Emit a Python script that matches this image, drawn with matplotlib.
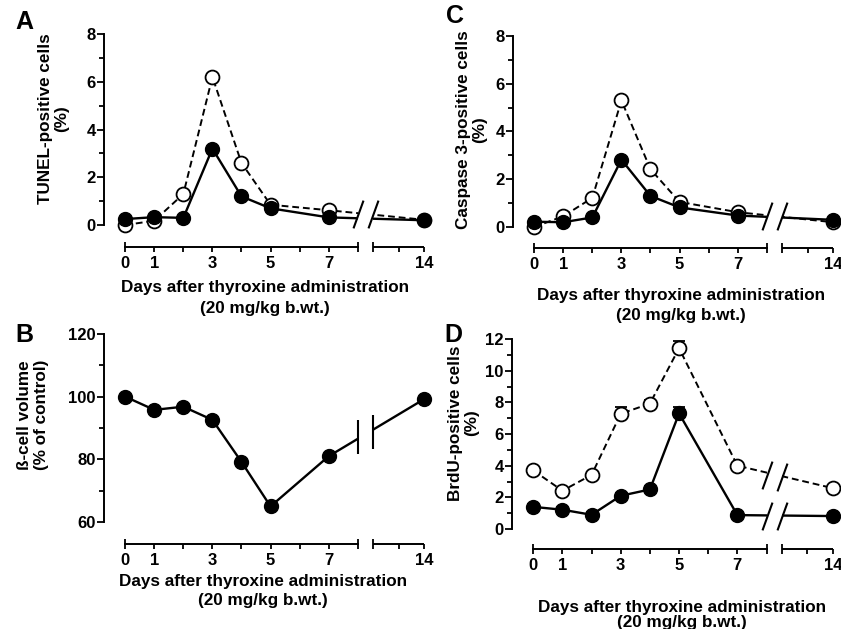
import numpy as np
import matplotlib.pyplot as plt
from matplotlib.transforms import blended_transform_factory

plt.rcParams['font.family'] = ['Liberation Sans', 'DejaVu Sans']
plt.rcParams['font.weight'] = 'bold'

# ---- data ----
days = [0, 1, 2, 3, 4, 5, 7, 14]

tunel_open = [0.0, 0.18, 1.3, 6.2, 2.6, 0.85, 0.62, 0.22]
tunel_filled = [0.25, 0.33, 0.3, 3.2, 1.2, 0.7, 0.32, 0.2]

casp_open = [0.0, 0.45, 1.22, 5.3, 2.42, 1.05, 0.62, 0.2]
casp_filled = [0.22, 0.2, 0.4, 2.82, 1.3, 0.82, 0.48, 0.3]

volume = [100.0, 95.8, 96.8, 92.6, 79.2, 65.0, 81.0, 99.2]

brdu_open = [3.7, 2.42, 3.42, 7.28, 7.92, 11.42, 4.0, 2.58]
brdu_filled = [1.4, 1.22, 0.9, 2.1, 2.5, 7.3, 0.88, 0.82]
brdu_open_err = [0.2, 0.2, 0.2, 0.4, 0.2, 0.48, 0.2, 0.2]
brdu_filled_err = [0.2, 0.2, 0.2, 0.2, 0.2, 0.38, 0.2, 0.2]

xlabel1 = "Days after thyroxine administration"
xlabel2 = "(20 mg/kg b.wt.)"


# broken x axis: 0..8 linear, 8..12 squeezed, 12..14 slightly compressed
def fwd(d):
    d = np.asarray(d, dtype=float)
    return np.where(d <= 8, d, np.where(d >= 12, 8.53 + (d - 12) * 0.875, 8 + (d - 8) * 0.1325))


def inv(u):
    u = np.asarray(u, dtype=float)
    return np.where(u <= 8, u, np.where(u >= 8.53, 12 + (u - 8.53) / 0.875, 8 + (u - 8) / 0.1325))


W, H = 841, 629
fig = plt.figure(figsize=(W / 100, H / 100), dpi=100)


def px_axes(left, top, right, bottom):
    return fig.add_axes([left / W, 1 - bottom / H, (right - left) / W, (bottom - top) / H])


slash = [(-0.18, -0.5), (0.18, 0.5)]
TICK_FS = 12
LAB_FS = 12.3


def setup(ax, ylim, yticks, yminor):
    ax.set_xscale('function', functions=(fwd, inv))
    ax.set_xlim(-0.73, 14)
    ax.set_ylim(*ylim)
    for s in ['top', 'right']:
        ax.spines[s].set_visible(False)
    for s in ['left', 'bottom']:
        ax.spines[s].set_linewidth(1.4)
    ax.spines['left'].set_bounds(yticks[0], yticks[-1])
    ax.spines['bottom'].set_bounds(0, 8)
    ax.set_yticks(yticks)
    ax.set_yticks(yminor, minor=True)
    ax.set_xticks([1, 2, 3, 4, 5, 6, 7, 13, 14], labels=['1', '', '3', '', '5', '', '7', '', '14'])
    ax.set_xticks([0, 8, 12], labels=['0', '', ''], minor=True)
    ax.tick_params(axis='both', which='both', labelsize=TICK_FS, width=1.3)
    ax.tick_params(axis='x', which='major', direction='out', length=3.5, pad=2.8)
    ax.tick_params(axis='x', which='minor', direction='inout', length=7, pad=2.8)
    ax.tick_params(axis='y', which='major', length=5, pad=1)
    ax.tick_params(axis='y', which='minor', length=3.5)
    # second piece of the x axis line
    trans = blended_transform_factory(ax.transData, ax.transAxes)
    ax.plot([12, 14], [0, 0], transform=trans, color='k', lw=1.4, clip_on=False,
            solid_capstyle='butt', zorder=2.5)
    # hide the lines inside the break
    ax.axvspan(8, 12, ymin=0.06, ymax=1, color='white', zorder=2.1, lw=0)
    ax.set_facecolor('none')


def pair(ax, y_open, y_filled, err_open=None, err_filled=None):
    kw = dict(color='k', marker='o', ms=10, mec='k', clip_on=False, zorder=2)
    if err_open is not None:
        for y, e in [(y_open, err_open), (y_filled, err_filled)]:
            ax.errorbar(days, y, yerr=[np.zeros(len(days)), e], fmt='none', ecolor='k',
                        elinewidth=1.2, capsize=4.5, capthick=1.3, zorder=1.9)
    ax.plot(days, y_open, ls=(0, (3.5, 2)), lw=1.4, mfc='white', mew=1.3, **kw)
    ax.plot(days, y_filled, ls='-', lw=1.7, mfc='k', **kw)


# ---- A ----
axA = px_axes(104, 34, 424, 247)
setup(axA, (-0.92, 8), [0, 2, 4, 6, 8], [1, 3, 5, 7])
pair(axA, tunel_open, tunel_filled)
axA.plot([8, 12], [0.45, 0.45], ls='none', marker=slash, ms=20, mec='k', mew=1.5, zorder=3,
         clip_on=False)

# ---- C ----
axC = px_axes(513, 36, 833, 248)
setup(axC, (-0.88, 8), [0, 2, 4, 6, 8], [1, 3, 5, 7])
pair(axC, casp_open, casp_filled)
axC.plot([8, 12], [0.46, 0.46], ls='none', marker=slash, ms=20, mec='k', mew=1.5, zorder=3,
         clip_on=False)

# ---- B ----
axB = px_axes(104, 334, 424, 544)
setup(axB, (53, 120), [60, 80, 100, 120], [70, 90, 110])
axB.plot(days, volume, ls='-', lw=1.7, color='k', marker='o', ms=10, mfc='k', clip_on=False,
         zorder=2)
axB.plot([8, 12], [87.0, 88.6], ls='none', marker='|', ms=24, mec='k', mew=1.5, zorder=3)

# ---- D ----
axD = px_axes(512, 339, 833, 549)
setup(axD, (-1.26, 12), [0, 2, 4, 6, 8, 10, 12], [1, 3, 5, 7, 9, 11])
pair(axD, brdu_open, brdu_filled, brdu_open_err, brdu_filled_err)
axD.plot([8, 12, 8, 12], [3.4, 3.3, 0.8, 0.8], ls='none', marker=slash, ms=20, mec='k', mew=1.5,
         zorder=3, clip_on=False)


# ---- texts ----
def ftext(x, y, s, **kw):
    fig.text(x / W, 1 - y / H, s, **kw)


ylabels = [
    (54, 119, "TUNEL-positive cells\n(%)"),
    (472, 130, "Caspase 3-positive cells\n(%)"),
    (33, 415, "ß-cell volume\n(% of control)"),
    (464, 423, "BrdU-positive cells\n(%)"),
]
for x, y, s in ylabels:
    ftext(x, y, s, rotation=90, ha='center', va='center', multialignment='center',
          fontsize=LAB_FS, fontweight='bold', linespacing=1.1)

xlabels = [(265, 292, 313), (681, 300, 320), (263, 586, 605), (682, 612, 627)]
for x, y1, y2 in xlabels:
    ftext(x, y1, xlabel1, ha='center', va='baseline', fontsize=LAB_FS, fontweight='bold')
    ftext(x, y2, xlabel2, ha='center', va='baseline', fontsize=LAB_FS, fontweight='bold')

for x, y, s in [(24, 22, 'A'), (24, 335, 'B'), (455, 16, 'C'), (453, 335, 'D')]:
    ftext(x, y, s, ha='center', va='center', fontsize=18, fontweight='bold')

fig.savefig('out.png', dpi=100)
